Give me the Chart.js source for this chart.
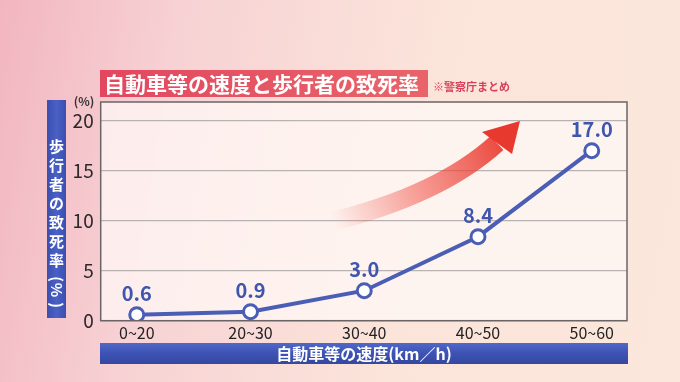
<!DOCTYPE html>
<html><head><meta charset="utf-8">
<script src="https://cdn.jsdelivr.net/npm/chart.js@4/dist/chart.umd.min.js"></script>
<style>
html,body{margin:0;padding:0;}
body{width:680px;height:382px;overflow:hidden;background:linear-gradient(100deg,#f2b6c0 0%,#f7d2d4 25%,#fbe4da 60%,#fce7dc 100%);}
#wrap{position:relative;width:680px;height:382px;}
</style></head><body>
<div id="wrap"><canvas id="c" width="680" height="382"></canvas></div>
<script>
const categories = ['0~20','20~30','30~40','40~50','50~60'];
const fatalityRate = [0.6, 0.9, 3.0, 8.4, 17.0];
const yTicks = [0, 5, 10, 15, 20];
const chartTitle = '自動車等の速度と歩行者の致死率';
const sourceNote = '※警察庁まとめ';
const yTitle = '歩行者の致死率(%)';
const xTitle = '自動車等の速度(km／h)';
const unitLabel = '(%)';

const FONT = '"Noto Sans CJK JP","Noto Sans",sans-serif';
const BLUE = '#4a5eb5';

const deco = {
  id:'deco',
  beforeDraw(chart){
    const ctx = chart.ctx, a = chart.chartArea;
    ctx.save();
    ctx.fillStyle='rgba(255,250,246,0.72)';
    ctx.fillRect(a.left,a.top,a.right-a.left,a.bottom-a.top);
    ctx.restore();
  },
  beforeDatasetsDraw(chart){
    const ctx = chart.ctx;
    ctx.save();
    const g = ctx.createLinearGradient(330,215,515,128);
    g.addColorStop(0,'rgba(240,80,70,0)');
    g.addColorStop(0.45,'rgba(238,80,70,0.55)');
    g.addColorStop(1,'rgba(232,55,45,1)');
    ctx.strokeStyle = g; ctx.lineWidth = 19; ctx.lineCap='butt';
    ctx.beginPath(); ctx.moveTo(330,222); ctx.quadraticCurveTo(440,195,497,143); ctx.stroke();
    ctx.fillStyle = '#e8392f';
    ctx.beginPath(); ctx.moveTo(520,121); ctx.lineTo(482,132); ctx.lineTo(512,154); ctx.closePath(); ctx.fill();
    ctx.restore();
  },
  afterDraw(chart){
    const ctx = chart.ctx, a = chart.chartArea;
    ctx.save();
    ctx.strokeStyle='#6b6466'; ctx.lineWidth=1.5;
    ctx.strokeRect(a.left,a.top,a.right-a.left,a.bottom-a.top);
    // title box
    const tg = ctx.createLinearGradient(100,0,428,0);
    tg.addColorStop(0,'#e2475f'); tg.addColorStop(1,'#e9646a');
    ctx.fillStyle=tg; ctx.fillRect(100,70,328,27);
    ctx.fillStyle='#fff'; ctx.font='bold 21px '+FONT; ctx.textBaseline='middle'; ctx.textAlign='left';
    ctx.fillText(chartTitle,104,84);
    ctx.fillStyle='#d8405a'; ctx.font='bold 11px '+FONT;
    ctx.fillText(sourceNote,433,87);
    // unit
    ctx.fillStyle='#333'; ctx.font='bold 12px '+FONT; ctx.textAlign='center';
    ctx.fillText(unitLabel,84,101);
    // y title bar
    const yb = ctx.createLinearGradient(47,0,66,0);
    yb.addColorStop(0,'#3a4fb0'); yb.addColorStop(0.5,'#4a60c4'); yb.addColorStop(1,'#3a4fb0');
    ctx.fillStyle=yb; ctx.fillRect(47,100,19,218);
    ctx.fillStyle='#fff'; ctx.font='bold 15px '+FONT; ctx.textAlign='center'; ctx.textBaseline='middle';
    const chars=[...yTitle]; let yy=146;
    chars.forEach(ch=>{
      if(ch==='('||ch===')'||ch==='%'){
        ctx.save(); ctx.translate(56.5,yy); ctx.rotate(Math.PI/2); ctx.fillText(ch,0,0); ctx.restore();
        yy += (ch==='%')?15:11;
      } else { ctx.fillText(ch,56.5,yy); yy+=19; }
    });
    // x title bar
    const xb = ctx.createLinearGradient(0,343,0,364);
    xb.addColorStop(0,'#5068c8'); xb.addColorStop(0.5,'#3d52b4'); xb.addColorStop(1,'#34489f');
    ctx.fillStyle=xb; ctx.fillRect(100,343,528,21);
    ctx.fillStyle='#fff'; ctx.font='bold 16px '+FONT;
    ctx.fillText(xTitle,364,354);
    // data labels
    const meta = chart.getDatasetMeta(0);
    ctx.fillStyle='#3f56ad'; ctx.font='bold 20px '+FONT; ctx.textBaseline='alphabetic';
    meta.data.forEach((p,i)=>{ ctx.fillText(fatalityRate[i].toFixed(1),p.x,p.y-14); });
    ctx.restore();
  }
};

new Chart(document.getElementById('c'),{
  type:'line',
  data:{datasets:[{
    data: fatalityRate.map((v,i)=>({x:i,y:v})),
    borderColor:BLUE, borderWidth:4,
    pointRadius:7, pointBorderWidth:3, pointBackgroundColor:'#fff', pointBorderColor:BLUE,
    tension:0, fill:false
  }]},
  options:{
    responsive:false, animation:false,
    devicePixelRatio:1,
    layout:{padding:{left:0,right:53,top:102,bottom:0}},
    plugins:{legend:{display:false},tooltip:{enabled:false}},
    scales:{
      x:{type:'linear',min:-0.317,max:4.31,
        afterBuildTicks(s){ s.ticks = categories.map((c,i)=>({value:i})); },
        ticks:{callback:(v)=>categories[v],color:'#222',font:{family:FONT,size:16},padding:3,maxRotation:0,autoSkip:false},
        grid:{display:false,drawTicks:false},border:{display:false},
        afterFit(s){ s.height = 61.3; }
      },
      y:{min:0,max:21.87,
        afterBuildTicks(s){ s.ticks = yTicks.map(v=>({value:v})); },
        ticks:{color:'#2a2a2a',font:{family:FONT,size:19},padding:7},
        grid:{color:'#b8b2b2',lineWidth:1.2,drawTicks:false},border:{display:false},
        afterFit(s){ s.width = 100.7; }
      }
    }
  },
  plugins:[deco]
});
</script>
</body></html>
